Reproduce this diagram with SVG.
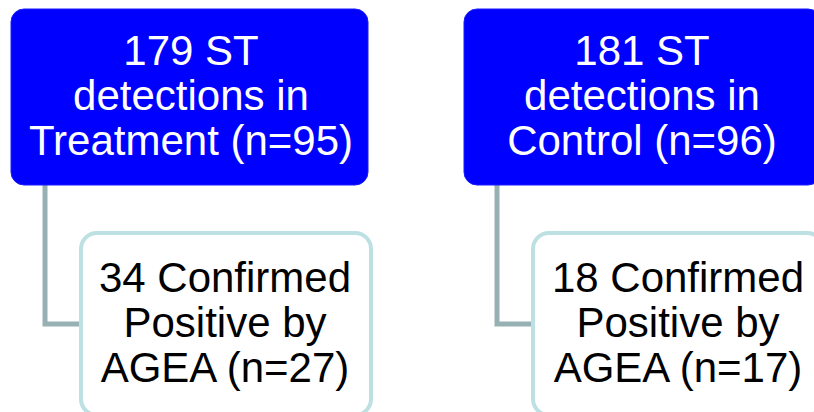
<svg xmlns="http://www.w3.org/2000/svg" width="814" height="412" viewBox="0 0 814 412">
<style>
.top{fill:#0000ff;stroke:#1a1aff;stroke-width:1}
.sub{fill:#ffffff;stroke:#bde0e3;stroke-width:4}
.conn{fill:none;stroke:#97b0b3;stroke-width:5}
text{font-family:"Liberation Sans",Arial,sans-serif;font-size:42px;text-anchor:middle}
.w{fill:#ffffff}
.b{fill:#000000}
</style>
<rect width="814" height="412" fill="#ffffff"/>
<g id="connectors">
<path class="conn" d="M45,185 V324 H82"/>
<path class="conn" d="M497,185 V324 H534"/>
</g>
<g id="treatment">
<rect class="top" x="11" y="9" width="357" height="176" rx="13"/>
<text class="w" x="191" y="65">179 ST</text>
<text class="w" x="191" y="110">detections in</text>
<text class="w" x="191" y="155">Treatment (n=95)</text>
</g>
<g id="treatment-confirmed">
<rect class="sub" x="81" y="233" width="290" height="182" rx="16"/>
<text class="b" x="225" y="292">34 Confirmed</text>
<text class="b" x="225" y="337">Positive by</text>
<text class="b" x="225" y="382">AGEA (n=27)</text>
</g>
<g id="control">
<rect class="top" x="464" y="9" width="357" height="176" rx="13"/>
<text class="w" x="642" y="65">181 ST</text>
<text class="w" x="642" y="110">detections in</text>
<text class="w" x="642" y="155">Control (n=96)</text>
</g>
<g id="control-confirmed">
<rect class="sub" x="533" y="233" width="290" height="182" rx="16"/>
<text class="b" x="678" y="292">18 Confirmed</text>
<text class="b" x="678" y="337">Positive by</text>
<text class="b" x="678" y="382">AGEA (n=17)</text>
</g>
</svg>
